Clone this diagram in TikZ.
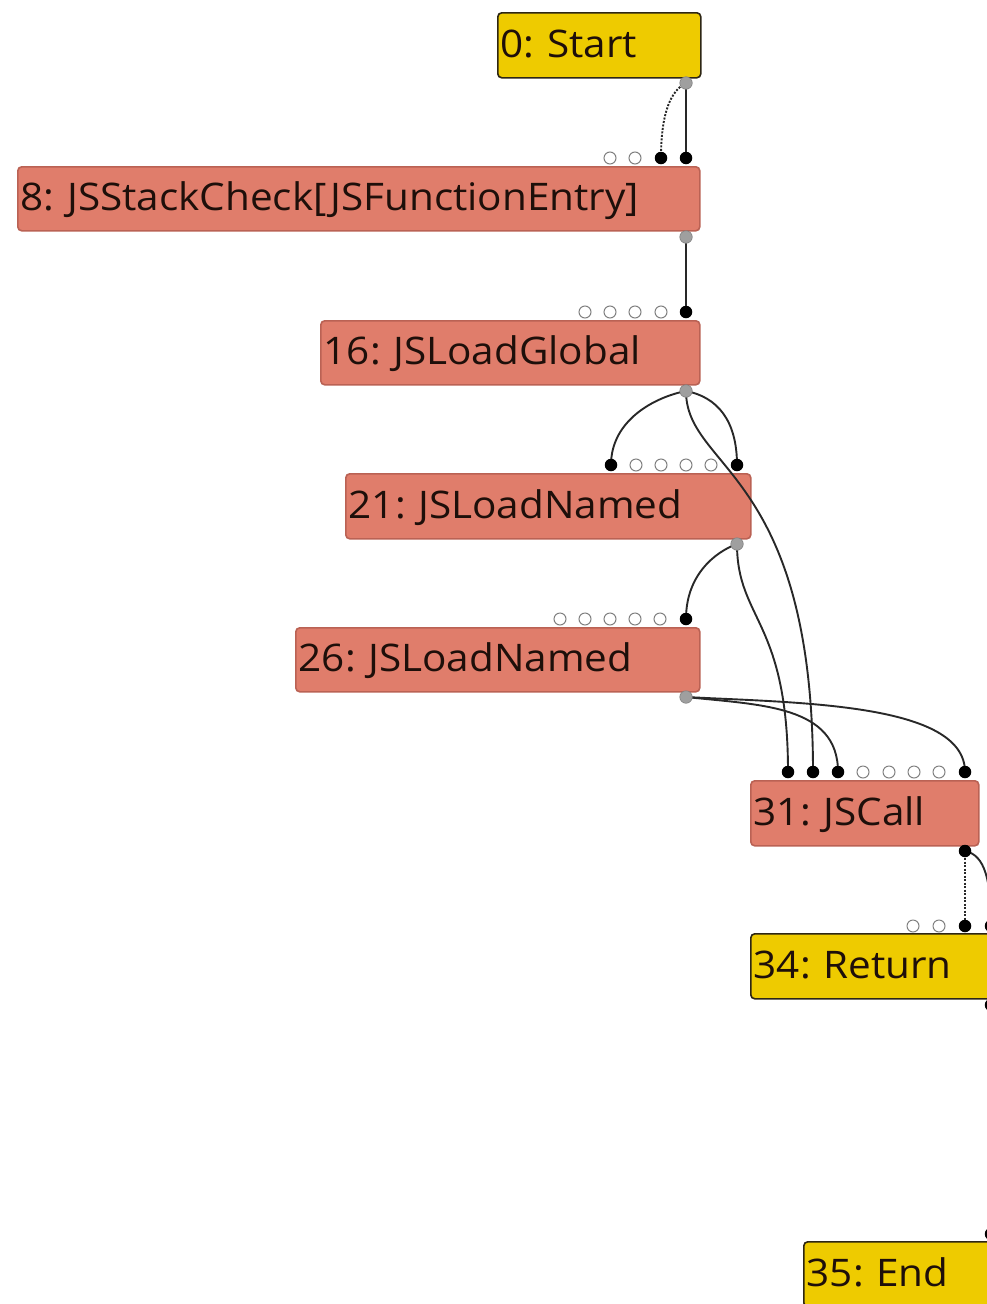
\documentclass[tikz,border=0pt]{standalone}
\usepackage{fontspec}
\setmainfont{Open Sans}[FakeStretch=1.065]
\definecolor{ctrlyellow}{RGB}{238,203,0}
\definecolor{ctrlborder}{RGB}{45,38,20}
\definecolor{jssalmon}{RGB}{224,125,107}
\definecolor{jsborder}{RGB}{186,98,84}
\definecolor{edgecol}{RGB}{40,40,40}
\definecolor{txtcol}{RGB}{30,15,10}
\pgfdeclarelayer{bg}
\pgfdeclarelayer{front}
\pgfsetlayers{bg,main,front}
\frenchspacing
\begin{document}
\begin{tikzpicture}[x=1pt,y=-1pt,
  box/.style={rounded corners=4pt, line width=1.6pt, anchor=north west,
    inner xsep=3pt, inner ysep=0pt, align=left, text height=30pt, text depth=6pt,
    font=\fontsize{38}{44}\selectfont, text=txtcol},
  ctrlbox/.style={box, draw=ctrlborder, fill=ctrlyellow},
  jsbox/.style={box, draw=jsborder, fill=jssalmon},
  outport/.style={circle, fill=gray!75, draw=gray, line width=0.6pt, inner sep=0pt, minimum size=12.5pt},
  inport/.style={circle, fill=black, inner sep=0pt, minimum size=12.5pt},
  freeport/.style={circle, draw=gray, fill=white, line width=1pt, inner sep=0pt, minimum size=12pt},
  edge/.style={draw=edgecol, line width=1.9pt},
  dotedge/.style={edge, dash pattern=on 2pt off 1.5pt}]
\useasboundingbox (0,0) rectangle (987,1304);

\begin{pgfonlayer}{bg}
\fill[white] (0,0) rectangle (987,1304);
\node[ctrlbox, minimum height=65pt, text width=197pt] (n0) at (497,12) {0: Start};
\node[jsbox, minimum height=64pt, text width=676pt] (n8) at (17,166) {8: JSStackCheck[JSFunctionEntry]};
\node[jsbox, minimum height=64pt, text width=373pt] (n16) at (320,320) {16: JSLoadGlobal};
\node[jsbox, minimum height=65pt, text width=399pt] (n21) at (345,473) {21: JSLoadNamed};
\node[jsbox, minimum height=64pt, text width=398pt] (n26) at (295,627) {26: JSLoadNamed};
\node[jsbox, minimum height=65pt, text width=222pt] (n31) at (750,780) {31: JSCall};
\node[ctrlbox, minimum height=65pt, text width=249pt] (n34) at (750,933) {34: Return};
\node[ctrlbox, minimum height=65pt, text width=194pt] (n35) at (803,1241) {35: End};
\end{pgfonlayer}

\begin{pgfonlayer}{front}
% node 0
\node[outport] (o0) at (686,83) {};
% node 8
\node[freeport] (f8a) at (610,158) {};
\node[freeport] (f8b) at (635,158) {};
\node[inport] (i8a) at (661,158) {};
\node[inport] (i8b) at (686,158) {};
\node[outport] (o8) at (686,237) {};
% node 16
\node[freeport] (f16a) at (585,312) {};
\node[freeport] (f16b) at (610,312) {};
\node[freeport] (f16c) at (635,312) {};
\node[freeport] (f16d) at (661,312) {};
\node[inport] (i16) at (686,312) {};
\node[outport] (o16) at (686,391) {};
% node 21
\node[inport] (i21a) at (611,465) {};
\node[freeport] (f21a) at (636,465) {};
\node[freeport] (f21b) at (661,465) {};
\node[freeport] (f21c) at (686,465) {};
\node[freeport] (f21d) at (711,465) {};
\node[inport] (i21b) at (737,465) {};
\node[outport] (o21) at (737,544) {};
% node 26
\node[freeport] (f26a) at (560,619) {};
\node[freeport] (f26b) at (585,619) {};
\node[freeport] (f26c) at (610,619) {};
\node[freeport] (f26d) at (635,619) {};
\node[freeport] (f26e) at (660,619) {};
\node[inport] (i26) at (686,619) {};
\node[outport] (o26) at (686,697) {};
% node 31
\node[inport] (i31a) at (788,772) {};
\node[inport] (i31b) at (813,772) {};
\node[inport] (i31c) at (838,772) {};
\node[freeport] (f31a) at (863,772) {};
\node[freeport] (f31b) at (889,772) {};
\node[freeport] (f31c) at (914,772) {};
\node[freeport] (f31d) at (939,772) {};
\node[inport] (i31d) at (965,772) {};
\node[inport] (o31) at (965,851) {};
% node 34
\node[freeport] (f34a) at (913,926) {};
\node[freeport] (f34b) at (939,926) {};
\node[inport] (i34a) at (965,926) {};
\node[inport] (i34b) at (991,926) {};
\node[inport] (o34) at (991,1005) {};
% node 35
\node[inport] (i35) at (991,1234) {};
\end{pgfonlayer}

% edges
\draw[dotedge] (o0.center) .. controls (672,90) and (661,110) .. (i8a.center);
\draw[edge] (o0.center) -- (i8b.center);
\draw[edge] (o8.center) -- (i16.center);
\draw[edge] (o16.center) .. controls (655,397) and (611,420) .. (i21a.center);
\draw[edge] (o16.center) .. controls (717,397) and (737,420) .. (i21b.center);
\draw[edge] (o16.center) .. controls (686,470) and (813,470) .. (i31b.center);
\draw[edge] (o21.center) .. controls (715,552) and (686,575) .. (i26.center);
\draw[edge] (o21.center) .. controls (737,620) and (788,620) .. (i31a.center);
\draw[edge] (o26.center) .. controls (760,705) and (838,705) .. (i31c.center);
\draw[edge] (o26.center) .. controls (800,703) and (965,703) .. (i31d.center);
\draw[dotedge] (o31.center) -- (i34a.center);
\draw[edge] (o31.center) .. controls (985,855) and (991,880) .. (i34b.center);
\draw[edge, draw=gray!60] (o34.center) -- (i35.center);
\end{tikzpicture}
\end{document}
